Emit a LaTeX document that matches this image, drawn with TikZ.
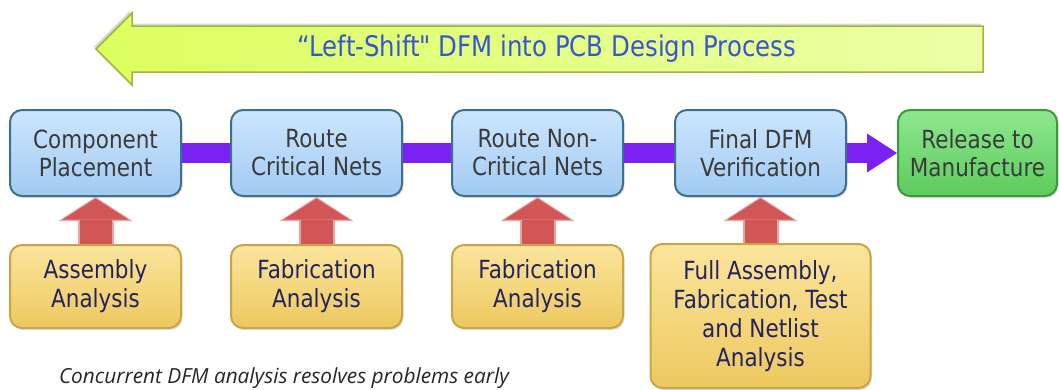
\documentclass[tikz,border=0pt]{standalone}
\usepackage{fontspec}
\setmainfont{DejaVu Sans}[FakeStretch=0.86]
\newfontfamily\bannerfont{DejaVu Sans}[FakeStretch=0.86, Ligatures=TeXOff]
\newfontfamily\capfont{Open Sans}
\usepackage{tikz}
\usetikzlibrary{arrows.meta,shadows,backgrounds}
\definecolor{steptop}{HTML}{CCE6FE}
\definecolor{stepbottom}{HTML}{A2CAF2}
\definecolor{stepedge}{HTML}{3D6F8E}
\definecolor{steptext}{HTML}{3A3A3A}
\definecolor{anatop}{HTML}{FBE59C}
\definecolor{anabottom}{HTML}{EDC85E}
\definecolor{anaedge}{HTML}{C9A548}
\definecolor{anatext}{HTML}{23235F}
\definecolor{reltop}{HTML}{8EE88E}
\definecolor{relbottom}{HTML}{5DCB5D}
\definecolor{reledge}{HTML}{3E983E}
\definecolor{barviolet}{HTML}{7A22F4}
\definecolor{liftred}{HTML}{D25656}
\definecolor{liftedge}{HTML}{E8A3A3}
\definecolor{bannerleft}{HTML}{DCFF5E}
\definecolor{bannerright}{HTML}{ECFFA6}
\definecolor{bannerline}{HTML}{A3B43A}
\definecolor{bannertext}{HTML}{3656D2}
\newcommand{\barcolor}{barviolet}
\newcommand{\barwidth}{20pt}
\newcommand{\shaftwidth}{34pt}
\tikzset{
  box/.style={line width=2pt, rounded corners=12pt, minimum height=86pt, inner sep=0pt,
    align=center, font=\fontsize{25}{28}\selectfont,
    drop shadow={opacity=0.25, shadow xshift=1.5pt, shadow yshift=-2pt}},
  stepbox/.style={box, draw=stepedge, top color=steptop, bottom color=stepbottom,
    text=steptext, minimum width=171pt},
  relbox/.style={box, draw=reledge, top color=reltop, bottom color=relbottom,
    text=steptext, minimum width=159pt},
  anabox/.style={box, draw=anaedge, top color=anatop, bottom color=anabottom,
    text=anatext, minimum width=171pt, minimum height=83pt, font=\fontsize{25}{29}\selectfont},
  bar/.style={draw=\barcolor, line width=\barwidth},
  liftedge/.style={draw=liftedge, line width=\shaftwidth+2pt,
    -{Triangle[length=24pt, width=74pt, line width=0pt]}},
  lift/.style={draw=liftred, line width=\shaftwidth-2pt,
    -{Triangle[length=21pt, width=66pt, line width=0pt]}, shorten >=1.5pt}
}

\begin{document}
\begin{tikzpicture}[x=1pt, y=-1pt]
\useasboundingbox (0,0) rectangle (1059,389);
%banner
\path[draw=bannerline, line width=1.5pt, left color=bannerleft, right color=bannerright,
  drop shadow={opacity=0.3, shadow xshift=-2pt, shadow yshift=2.5pt}]
  (96,49) -- (132,13) -- (132,26) -- (983,26) -- (983,72) -- (132,72) -- (132,85) -- cycle;
\node[text=bannertext, font=\bannerfont\fontsize{28.4}{32}\selectfont] (shift) at (547,49) {“Left-Shift" DFM into PCB Design Process};
%steps
\node[stepbox] (s1) at (95.5,153) {Component\\Placement};
\node[stepbox] (s2) at (316.5,153) {Route\\Critical Nets};
\node[stepbox] (s3) at (537.5,153) {Route Non-\\Critical Nets};
\node[stepbox] (s4) at (760.5,153) {Final DFM\\Verification};
\node[relbox] (s5) at (977.5,153) {Release to\\Manufacture};
%analysis
\node[anabox] (a1) at (95.5,286.5) {Assembly\\Analysis};
\node[anabox] (a2) at (316.5,286.5) {Fabrication\\Analysis};
\node[anabox] (a3) at (537.5,286.5) {Fabrication\\Analysis};
\node[anabox, minimum width=220pt, minimum height=144pt] (a4) at (760.5,316) {Full Assembly,\\Fabrication, Test\\and Netlist\\Analysis};
%flow
\draw[bar] (s1) -- (s2);
\draw[bar] (s2) -- (s3);
\draw[bar] (s3) -- (s4);
\draw[bar, -{Triangle[length=30pt, width=39pt, line width=0pt]}] (s4) -- (s5);
\draw[liftedge] (a1) -- (s1);
\draw[liftedge] (a2) -- (s2);
\draw[liftedge] (a3) -- (s3);
\draw[liftedge] (a4) -- (s4);
\draw[lift] (a1) -- (s1);
\draw[lift] (a2) -- (s2);
\draw[lift] (a3) -- (s3);
\draw[lift] (a4) -- (s4);
%caption
\node[anchor=base, font=\capfont\itshape\fontsize{20.8}{24}\selectfont, text=black!85] (note) at (284,383) {Concurrent DFM analysis resolves problems early};
\end{tikzpicture}
\end{document}
